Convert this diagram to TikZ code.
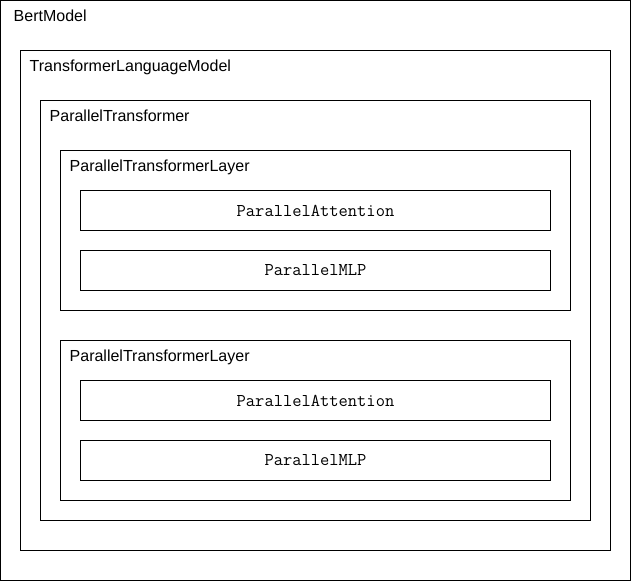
\documentclass[tikz,border=0pt]{standalone}
\usepackage{fontspec}
\setmainfont{Liberation Sans}
\usetikzlibrary{positioning}
\tikzset{
Box/.style={
	draw=black,
	line width=1pt,
	rectangle,
	inner sep=0pt,
	outer sep=0pt,
	anchor=north west
},
Module/.style={
	Box,
	minimum width=470pt,
	minimum height=40pt,
	font=\ttfamily\fontsize{18}{20}\selectfont
},
Caption/.style={
	anchor=base west,
	inner sep=0pt,
	font=\fontsize{16}{18}\selectfont
}
}

\begin{document}
\begin{tikzpicture}
	\useasboundingbox (0pt,0pt) rectangle (631pt,-581pt);

	\node[Box, minimum width=630pt, minimum height=580pt] (bert) at (0.5pt,-0.5pt) {};
	\node[Box, minimum width=590pt, minimum height=500pt, below right=50pt and 20pt of bert.north west] (tlm) {};
	\node[Box, minimum width=550pt, minimum height=420pt, below right=50pt and 20pt of tlm.north west] (trans) {};

	\node[Box, minimum width=510pt, minimum height=160pt, below right=50pt and 20pt of trans.north west] (layerA) {};
	\node[Module, below right=40pt and 20pt of layerA.north west] (attnA) {ParallelAttention};
	\node[Module, below=20pt of attnA.south west, anchor=north west] (mlpA) {ParallelMLP};

	\node[Box, minimum width=510pt, minimum height=160pt, below=30pt of layerA.south west, anchor=north west] (layerB) {};
	\node[Module, below right=40pt and 20pt of layerB.north west] (attnB) {ParallelAttention};
	\node[Module, below=20pt of attnB.south west, anchor=north west] (mlpB) {ParallelMLP};

	% captions
	\node[Caption] (bertlbl) at ([xshift=13pt, yshift=-20.5pt]bert.north west) {BertModel};
	\node[Caption] (tlmlbl) at ([xshift=9pt, yshift=-20.5pt]tlm.north west) {TransformerLanguageModel};
	\node[Caption] (translbl) at ([xshift=9pt, yshift=-20.5pt]trans.north west) {ParallelTransformer};
	\node[Caption] (layerAlbl) at ([xshift=9pt, yshift=-20.5pt]layerA.north west) {ParallelTransformerLayer};
	\node[Caption] (layerBlbl) at ([xshift=9pt, yshift=-20.5pt]layerB.north west) {ParallelTransformerLayer};
\end{tikzpicture}
\end{document}
